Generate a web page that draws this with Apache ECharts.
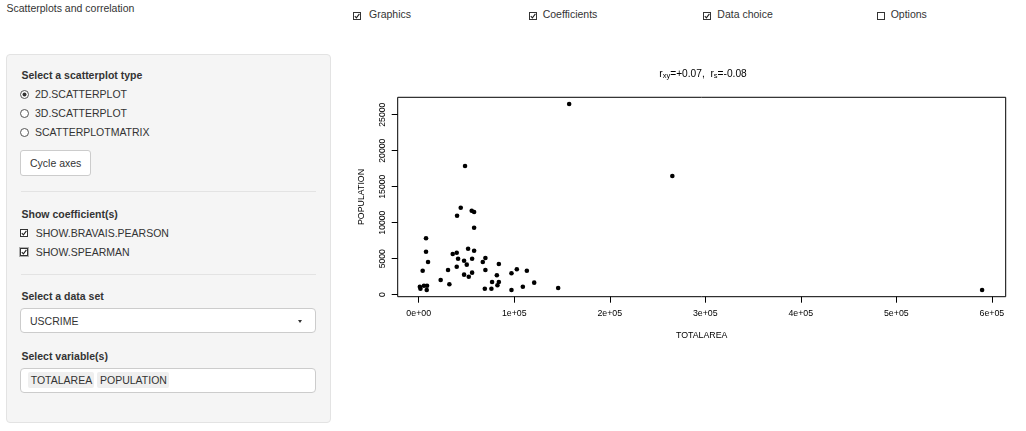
<!DOCTYPE html>
<html><head><meta charset="utf-8">
<script src="https://cdn.jsdelivr.net/npm/echarts@6/dist/echarts.min.js"></script>
<style>
html,body{margin:0;padding:0;width:1026px;height:431px;overflow:hidden;background:#fff;font-family:"Liberation Sans",Arial,sans-serif;color:#333;}
.t{position:absolute;font-size:10.5px;line-height:12px;white-space:nowrap;}
.b{font-weight:bold;}
.abs{position:absolute;box-sizing:border-box;}
#panel{left:5.5px;top:53.5px;width:325px;height:369px;background:#f5f5f5;border:1px solid #e3e3e3;border-radius:4px;}
.sep{height:1px;background:#e3e3e3;left:20.5px;width:295.5px;}
.box{background:#fff;border:1px solid #ccc;border-radius:4px;}
.tag{background:#efefef;border-radius:2px;}
#chart{position:absolute;left:0;top:0;width:1026px;height:431px;pointer-events:none;}
svg{position:absolute;overflow:visible;}
</style>
</head><body>
<div class="t" style="left:6.5px;top:1.5px;">Scatterplots and correlation</div>

<svg style="left:353px;top:12px" width="8" height="8"><rect x="0.5" y="0.5" width="7" height="7" fill="#fff" stroke="#333"/><path d="M1.8 4.2 L3.4 5.9 L6.4 1.9" fill="none" stroke="#222" stroke-width="1.1"/></svg>
<div class="t" style="left:369px;top:7.7px;">Graphics</div>
<svg style="left:528.5px;top:12px" width="8" height="8"><rect x="0.5" y="0.5" width="7" height="7" fill="#fff" stroke="#333"/><path d="M1.8 4.2 L3.4 5.9 L6.4 1.9" fill="none" stroke="#222" stroke-width="1.1"/></svg>
<div class="t" style="left:542.7px;top:7.7px;">Coefficients</div>
<svg style="left:702.5px;top:12px" width="8" height="8"><rect x="0.5" y="0.5" width="7" height="7" fill="#fff" stroke="#333"/><path d="M1.8 4.2 L3.4 5.9 L6.4 1.9" fill="none" stroke="#222" stroke-width="1.1"/></svg>
<div class="t" style="left:717.3px;top:7.7px;">Data choice</div>
<svg style="left:876.5px;top:12px" width="8" height="8"><rect x="0.5" y="0.5" width="7" height="7" fill="#fff" stroke="#333"/></svg>
<div class="t" style="left:890.7px;top:7.7px;">Options</div>

<div id="panel" class="abs"></div>
<div class="t b" style="left:21.5px;top:68.5px;">Select a scatterplot type</div>
<svg style="left:20.2px;top:90.2px" width="9" height="9"><circle cx="4.5" cy="4.5" r="4" fill="#fff" stroke="#555"/><circle cx="4.5" cy="4.5" r="2" fill="#333"/></svg>
<div class="t" style="left:35px;top:87.5px;">2D.SCATTERPLOT</div>
<svg style="left:20.2px;top:109.2px" width="9" height="9"><circle cx="4.5" cy="4.5" r="4" fill="#fff" stroke="#555"/></svg>
<div class="t" style="left:35px;top:106.5px;">3D.SCATTERPLOT</div>
<svg style="left:20.2px;top:128.2px" width="9" height="9"><circle cx="4.5" cy="4.5" r="4" fill="#fff" stroke="#555"/></svg>
<div class="t" style="left:35px;top:125.7px;">SCATTERPLOTMATRIX</div>
<div class="abs box" style="left:20.3px;top:150.3px;width:70.4px;height:25.4px;border-radius:3px;"></div>
<div class="t" style="left:30px;top:156.7px;">Cycle axes</div>
<div class="abs sep" style="top:191px;"></div>

<div class="t b" style="left:21.5px;top:207.7px;">Show coefficient(s)</div>
<svg style="left:20.3px;top:228.8px" width="8" height="8"><rect x="0.5" y="0.5" width="7" height="7" fill="#fff" stroke="#333"/><path d="M1.8 4.2 L3.4 5.9 L6.4 1.9" fill="none" stroke="#222" stroke-width="1.1"/></svg>
<div class="t" style="left:35.7px;top:226.5px;">SHOW.BRAVAIS.PEARSON</div>
<svg style="left:20.3px;top:248.3px" width="8" height="8"><rect x="-0.5" y="-0.5" width="9" height="9" fill="none" stroke="#666" stroke-dasharray="1,1"/><rect x="0.5" y="0.5" width="7" height="7" fill="#fff" stroke="#333"/><path d="M1.8 4.2 L3.4 5.9 L6.4 1.9" fill="none" stroke="#222" stroke-width="1.1"/></svg>
<div class="t" style="left:35.7px;top:246px;">SHOW.SPEARMAN</div>
<div class="abs sep" style="top:274px;"></div>

<div class="t b" style="left:21.5px;top:290.3px;">Select a data set</div>
<div class="abs box" style="left:20.3px;top:308.3px;width:295.4px;height:25px;"></div>
<div class="t" style="left:30px;top:314.7px;">USCRIME</div>
<div class="abs" style="left:297.5px;top:320.3px;width:0;height:0;border-left:2.7px solid transparent;border-right:2.7px solid transparent;border-top:3px solid #333;"></div>

<div class="t b" style="left:21.5px;top:350.3px;">Select variable(s)</div>
<div class="abs box" style="left:20.3px;top:368.3px;width:295.4px;height:24.4px;"></div>
<div class="abs tag" style="left:28.3px;top:372.3px;width:66px;height:16px;"></div>
<div class="abs tag" style="left:97px;top:372.3px;width:72px;height:16px;"></div>
<div class="t" style="left:30.7px;top:374.3px;">TOTALAREA</div>
<div class="t" style="left:100px;top:374.3px;">POPULATION</div>

<div id="chart"></div>
<script>
// US states (USCRIME data set): total area and population
const states = ['CA','NY','PA','OH','IL','FL','MI','TX','AK',
  'NJ','MA','MD','CT','RI','DE','HI','NH','VT',
  'WV','ME','SC','IN','VA','TN','KY','LA','NC','GA','WI','AL','MS','AR','IA',
  'WA','MO','OK','ND','SD','MN','KS','NE','UT','ID','OR','CO','AZ','WY','NV','NM','MT'];
const totalArea = [157500, 48500, 44000, 40150, 55500, 58000, 58000, 265500, 589800,
  7650, 7650, 9750, 4150, 1200, 1800, 5500, 8700, 8400,
  23000, 32100, 30700, 35600, 39800, 41200, 39800, 47500, 51700, 58000, 55900, 50300, 47500, 52400, 55900,
  67100, 69800, 69800, 69200, 76100, 83900, 81800, 76800, 83900, 82400, 97100, 102700, 113200, 97100, 109000, 120900, 146000];
const population = [26490, 17870, 12080, 10970, 11670, 11490, 9300, 16480, 650,
  7830, 5970, 4540, 3330, 1100, 830, 1250, 1250, 650,
  2040, 1440, 3430, 5650, 5830, 5000, 3890, 4720, 6390, 6110, 5000, 4170, 2780, 2500, 3060,
  4540, 5100, 3430, 830, 830, 4260, 2690, 1760, 1760, 1310, 2970, 3530, 3330, 650, 1110, 1670, 930];
const xTickValues = [0, 100000, 200000, 300000, 400000, 500000, 600000];
const xTickLabels = ['0e+00', '1e+05', '2e+05', '3e+05', '4e+05', '5e+05', '6e+05'];
const yTickValues = [0, 5000, 10000, 15000, 20000, 25000];
const yTickLabels = ['0', '5000', '10000', '15000', '20000', '25000'];
const xName = 'TOTALAREA';
const yName = 'POPULATION';
const rPearson = '+0.07';
const rSpearman = '-0.08';

const font = '"Liberation Sans", Arial, sans-serif';
const chart = echarts.init(document.getElementById('chart'));
chart.setOption({
  animation: false,
  grid: {left: 397.7, right: 20.3, top: 97.3, bottom: 134.3, show: true,
    borderColor: '#000', borderWidth: 1, backgroundColor: 'transparent'},
  xAxis: {
    type: 'value', min: -22000, max: 614500,
    axisLine: {show: false, onZero: false},
    axisTick: {show: true, inside: false, length: 6, customValues: xTickValues, lineStyle: {color: '#000', width: 1}},
    axisLabel: {customValues: xTickValues, formatter: v => xTickLabels[xTickValues.indexOf(v)],
      margin: 12, fontSize: 8.8, color: '#000', fontFamily: font},
    splitLine: {show: false},
    name: xName, nameLocation: 'middle', nameGap: 34,
    nameTextStyle: {fontSize: 8.8, color: '#000', fontFamily: font}
  },
  yAxis: {
    type: 'value', min: -280, max: 27420,
    axisLine: {show: false, onZero: false},
    axisTick: {show: true, inside: false, length: 6, customValues: yTickValues, lineStyle: {color: '#000', width: 1}},
    axisLabel: {customValues: yTickValues, formatter: v => yTickLabels[yTickValues.indexOf(v)],
      rotate: 90, margin: 11, fontSize: 8.6, color: '#000', fontFamily: font},
    splitLine: {show: false},
    name: yName, nameLocation: 'middle', nameGap: 32, nameRotate: 90,
    nameTextStyle: {fontSize: 8.8, color: '#000', fontFamily: font}
  },
  series: [{
    type: 'scatter', silent: true, symbol: 'circle', symbolSize: 4.6,
    itemStyle: {color: '#000', opacity: 1},
    data: totalArea.map((x, i) => [x, population[i]])
  }],
  graphic: [{
    type: 'text', x: 703, y: 74,
    style: {
      text: '{m|r}{s|xy}{m|=' + rPearson + ',  r}{s|s}{m|=' + rSpearman + '}',
      align: 'center', verticalAlign: 'middle',
      rich: {
        m: {fontSize: 10.2, fontFamily: font, fill: '#000', lineHeight: 12, verticalAlign: 'middle'},
        s: {fontSize: 7.5, fontFamily: font, fill: '#000', lineHeight: 8, verticalAlign: 'bottom'}
      }
    }
  }]
});
</script>
</body></html>
